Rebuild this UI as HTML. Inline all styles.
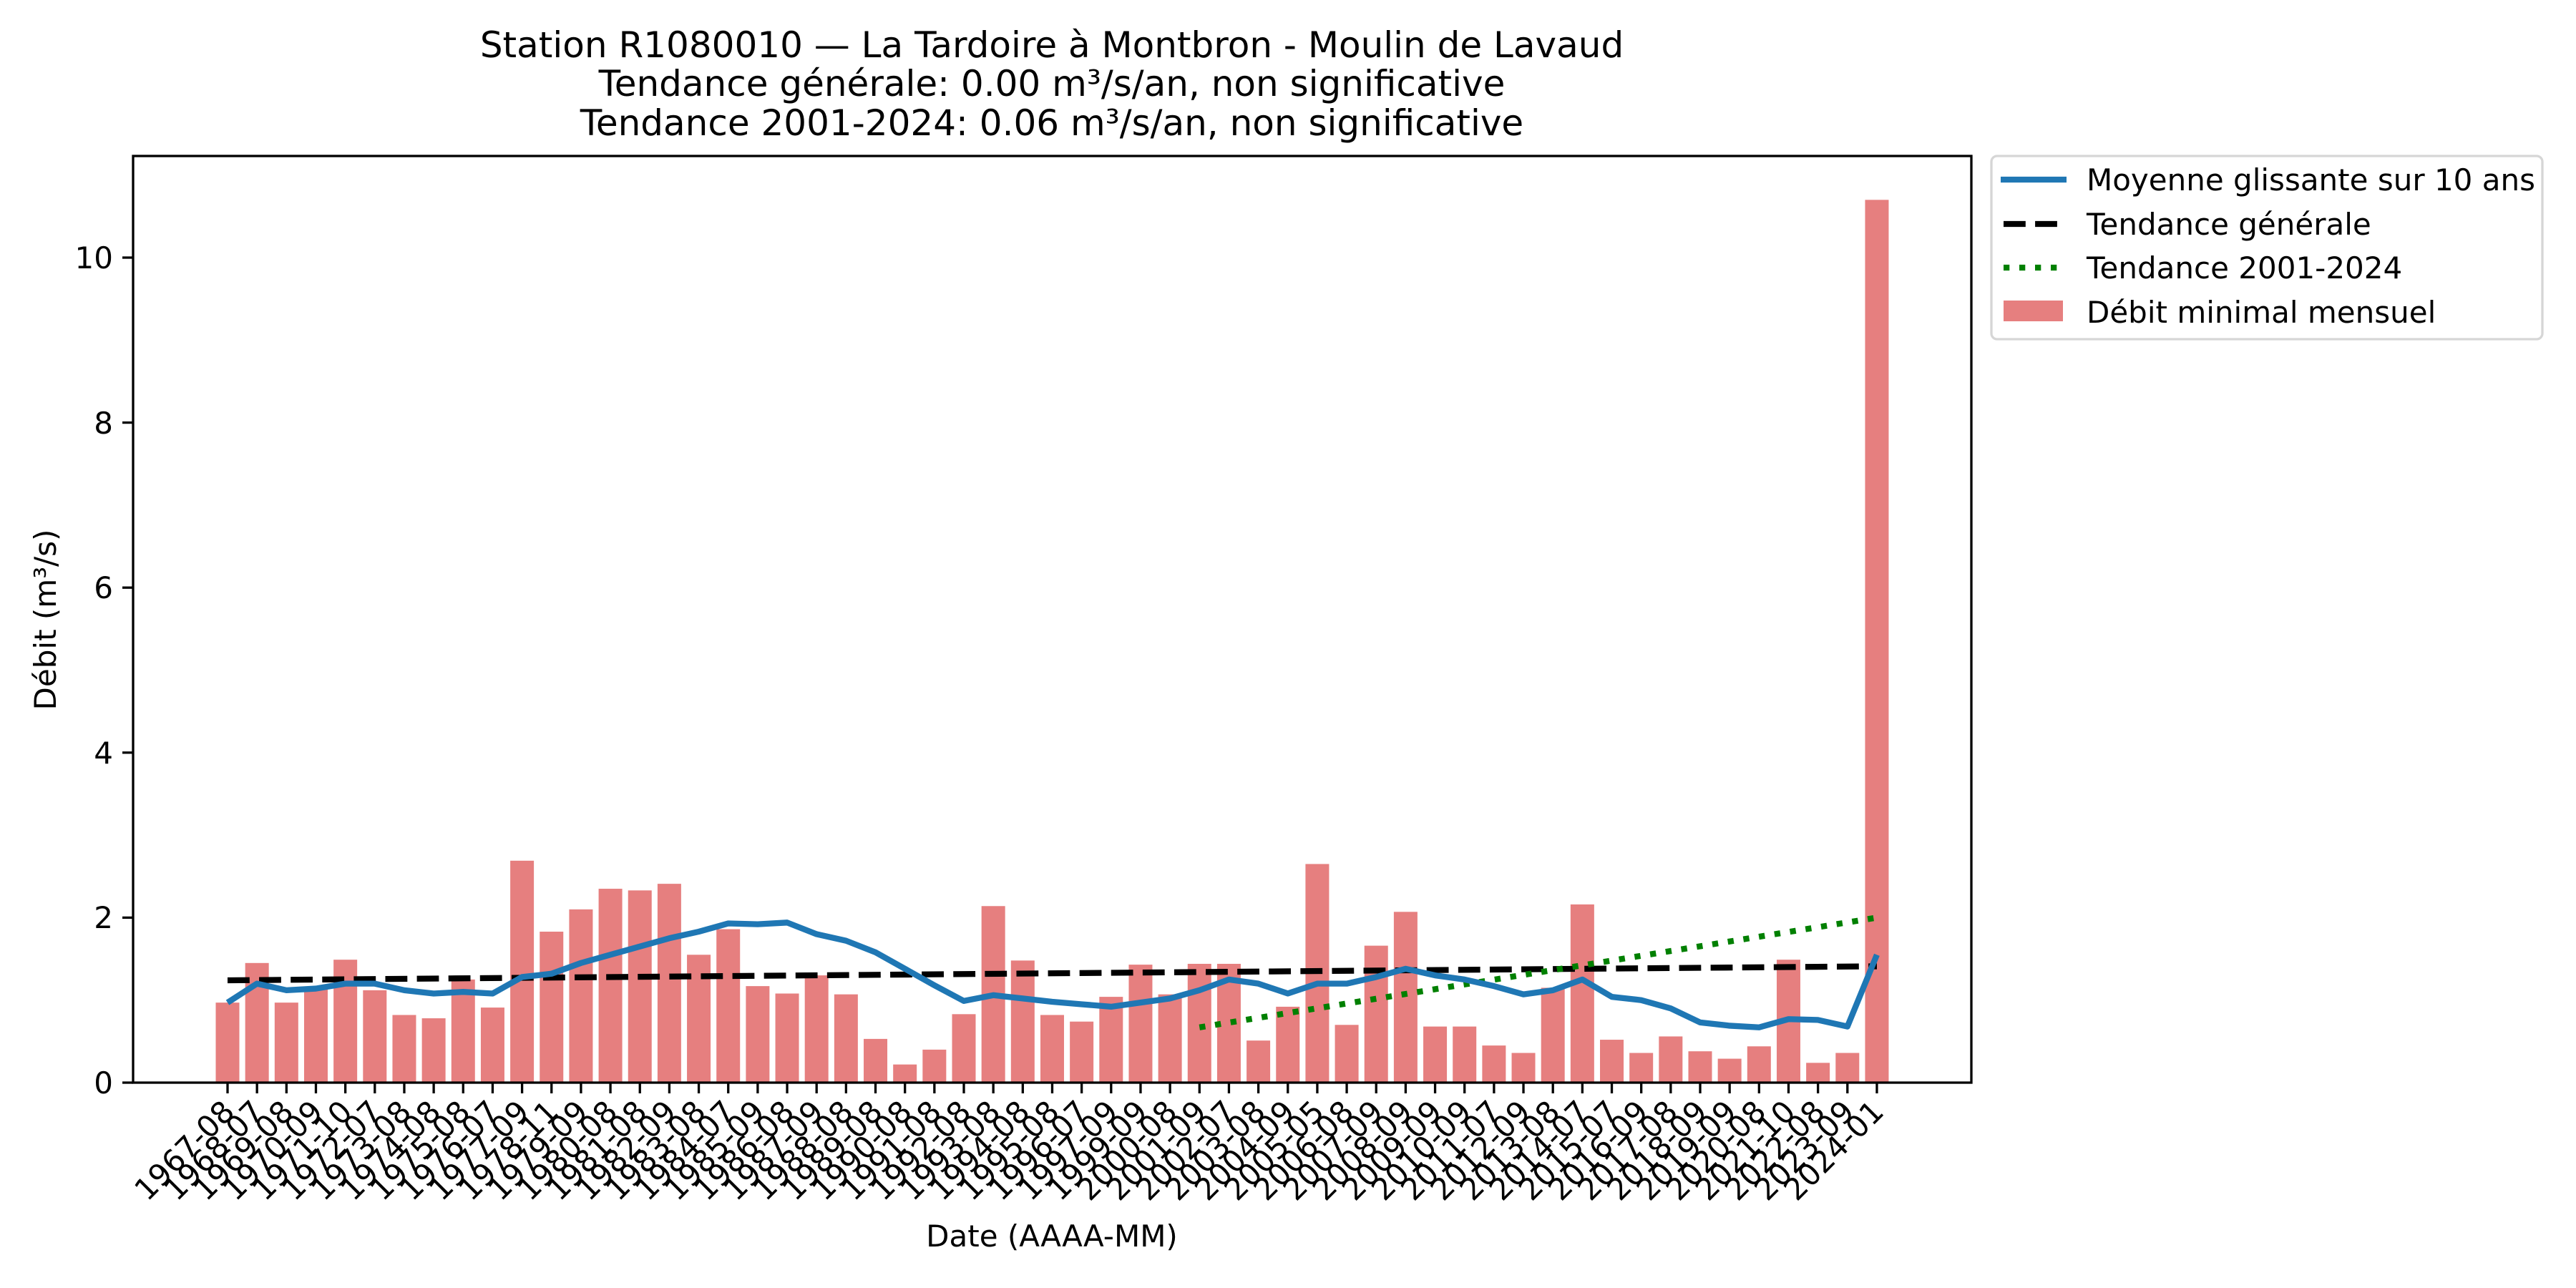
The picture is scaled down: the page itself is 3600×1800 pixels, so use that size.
<!DOCTYPE html>
<html><head><meta charset="utf-8"><style>
html,body{margin:0;padding:0;background:#fff}
svg{display:block}
text{font-family:"DejaVu Sans","Liberation Sans",sans-serif;fill:#000}
</style></head><body>
<svg id="s" width="3600" height="1800" viewBox="0 0 3600 1800" xmlns="http://www.w3.org/2000/svg">
<g id="bars"></g>
<g id="lines"></g>
<rect x="186" y="218" width="2569" height="1295" fill="none" stroke="#000" stroke-width="3.3"/>
<g id="yt" font-size="42" text-anchor="end">
<text x="158" y="1528">0</text>
<text x="158" y="1297">2</text>
<text x="158" y="1067">4</text>
<text x="158" y="836">6</text>
<text x="158" y="606">8</text>
<text x="158" y="375">10</text>
</g>
<g id="xt" font-size="42" text-anchor="end">
<text>1967-08</text><text>1968-07</text><text>1969-08</text><text>1970-09</text><text>1971-10</text><text>1972-07</text><text>1973-08</text><text>1974-08</text><text>1975-08</text><text>1976-07</text><text>1977-09</text><text>1978-11</text><text>1979-09</text><text>1980-08</text><text>1981-08</text><text>1982-09</text><text>1983-08</text><text>1984-07</text><text>1985-09</text><text>1986-08</text><text>1987-09</text><text>1988-08</text><text>1989-08</text><text>1990-08</text><text>1991-08</text><text>1992-08</text><text>1993-08</text><text>1994-08</text><text>1995-08</text><text>1996-07</text><text>1997-09</text><text>1999-09</text><text>2000-08</text><text>2001-09</text><text>2002-07</text><text>2003-08</text><text>2004-09</text><text>2005-05</text><text>2006-08</text><text>2007-09</text><text>2008-09</text><text>2009-09</text><text>2010-09</text><text>2011-07</text><text>2012-09</text><text>2013-08</text><text>2014-07</text><text>2015-07</text><text>2016-09</text><text>2017-08</text><text>2018-09</text><text>2019-09</text><text>2020-08</text><text>2021-10</text><text>2022-08</text><text>2023-09</text><text>2024-01</text>
</g>
<g font-size="50" text-anchor="middle">
<text x="1470" y="80">Station R1080010 — La Tardoire à Montbron - Moulin de Lavaud</text>
<text x="1470" y="134">Tendance générale: 0.00 m³/s/an, non significative</text>
<text x="1470" y="189">Tendance 2001-2024: 0.06 m³/s/an, non significative</text>
</g>
<text x="1470" y="1742" font-size="42" text-anchor="middle">Date (AAAA-MM)</text>
<text transform="translate(78,866) rotate(-90)" font-size="42" text-anchor="middle">Débit (m³/s)</text>
<rect x="2783" y="218" width="770" height="256" rx="8" fill="#fff" stroke="#d6d6d6" stroke-width="3.3"/>
<line x1="2796" y1="251" x2="2888" y2="251" stroke="#1f77b4" stroke-width="8.3"/>
<line x1="2800" y1="313" x2="2888" y2="313" stroke="#000" stroke-width="8.3" stroke-dasharray="30.8,13.3"/>
<line x1="2800" y1="374" x2="2888" y2="374" stroke="#008000" stroke-width="8.3" stroke-dasharray="8.3,13.7"/>
<rect x="2800" y="420" width="83" height="29" fill="#e67f7f"/>
<g font-size="42">
<text x="2916" y="266">Moyenne glissante sur 10 ans</text>
<text x="2916" y="328">Tendance générale</text>
<text x="2916" y="389">Tendance 2001-2024</text>
<text x="2916" y="451">Débit minimal mensuel</text>
</g>
</svg>
<script>
var NS="http://www.w3.org/2000/svg";
function X(i){return 318+41.16*i}
function Y(v){return 1513-v*115.3}
var vals=[0.97,1.45,0.97,1.15,1.49,1.12,0.82,0.78,1.25,0.91,2.69,1.83,2.1,2.35,2.33,2.41,1.55,1.86,1.17,1.08,1.3,1.07,0.53,0.22,0.4,0.83,2.14,1.48,0.82,0.74,1.04,1.43,1.07,1.44,1.44,0.51,0.92,2.65,0.7,1.66,2.07,0.68,0.68,0.45,0.36,1.15,2.16,0.52,0.36,0.56,0.38,0.29,0.44,1.49,0.24,0.36,10.7];
var roll=[0.97,1.2,1.12,1.14,1.2,1.2,1.12,1.08,1.1,1.08,1.28,1.32,1.45,1.55,1.65,1.75,1.83,1.93,1.92,1.94,1.8,1.72,1.58,1.38,1.18,0.99,1.06,1.02,0.98,0.95,0.92,0.97,1.02,1.12,1.25,1.2,1.08,1.2,1.2,1.28,1.38,1.3,1.25,1.17,1.07,1.12,1.25,1.04,1.0,0.9,0.73,0.69,0.67,0.77,0.76,0.68,1.55];
var bars=document.getElementById("bars"),lines=document.getElementById("lines");
function el(p,t,a){var e=document.createElementNS(NS,t);for(var k in a)e.setAttribute(k,a[k]);p.appendChild(e);return e}
var s=document.getElementById("s");
vals.forEach(function(v,i){
 el(bars,"rect",{x:X(i)-16.5,y:Y(v),width:33,height:v*115.3,fill:"#e67f7f"});
 el(s,"line",{x1:X(i),y1:1513,x2:X(i),y2:1528,stroke:"#000","stroke-width":3.3});
});
[0,2,4,6,8,10].forEach(function(v){el(s,"line",{x1:171,y1:Y(v),x2:186,y2:Y(v),stroke:"#000","stroke-width":3.3})});
var d=roll.map(function(v,i){return (i?"L":"M")+X(i)+","+Y(v)}).join(" ");
el(lines,"line",{x1:X(0),y1:Y(1.24),x2:X(56),y2:Y(1.41),stroke:"#000","stroke-width":8.3,"stroke-dasharray":"30.8,13.3"});
el(lines,"line",{x1:X(33),y1:Y(0.67),x2:X(56),y2:Y(2.0),stroke:"#008000","stroke-width":8.3,"stroke-dasharray":"8.3,13.7"});
el(lines,"path",{d:d,fill:"none",stroke:"#1f77b4","stroke-width":8.3,"stroke-linejoin":"round"});
var t=document.querySelectorAll("#xt text");
t.forEach(function(e,i){e.setAttribute("transform","translate("+(X(i)+12)+",1556) rotate(-45)")});
</script>
</body></html>
